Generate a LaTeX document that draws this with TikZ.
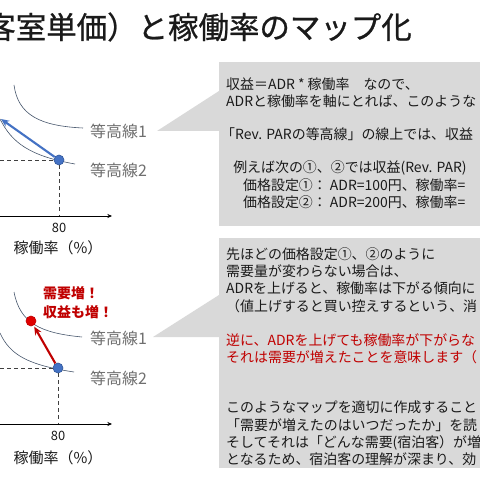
\documentclass[tikz,border=0pt]{standalone}
\usepackage{fontspec}
\setmainfont{Noto Sans CJK JP}
\newfontfamily\maptitlefont[FakeBold=0.8]{Noto Sans CJK JP}
\usetikzlibrary{arrows.meta, positioning, calc}
\definecolor{mapgray}{HTML}{D9D9D9}
\definecolor{mapblue}{HTML}{4472C4}
\definecolor{mapnavy}{HTML}{2F5597}
\definecolor{mapred}{HTML}{C00000}
\definecolor{mapdot}{HTML}{E00000}
\definecolor{mapline}{HTML}{44546A}
\definecolor{maplabel}{HTML}{6F6F6F}
\definecolor{mapink}{HTML}{1A1A1A}
\tikzset{
  titletext/.style={inner sep=0, mapink, font=\maptitlefont\fontsize{26}{26}\selectfont},
  bodytext/.style={anchor=west, inner sep=0, align=left, mapink,
                   font=\fontsize{11.9}{14.9}\selectfont},
  contour/.style={mapline, line width=0.5pt},
  guide/.style={dashed, line width=0.6pt, black!75},
  axisline/.style={line width=0.7pt, -{Stealth[length=4pt, width=3.5pt]}},
  contourlabel/.style={anchor=west, inner sep=0, maplabel,
                       font=\fontsize{13.6}{13.6}\selectfont},
  ticklabel/.style={inner sep=0, mapink, font=\fontsize{11}{11}\selectfont},
  axislabel/.style={inner sep=0, mapink, font=\fontsize{12.8}{12.8}\selectfont},
  bluedot/.style={circle, fill=mapblue, draw=mapnavy, line width=0.5pt,
                  inner sep=0, minimum size=0.3cm},
  reddot/.style={circle, fill=mapdot, draw=mapred, line width=0.5pt,
                 inner sep=0, minimum size=0.3cm}
}

\begin{document}
\begin{tikzpicture}[x=0.03cm, y=-0.03cm]
  \useasboundingbox (0,0) rectangle (480,480);
  \clip (0,0) rectangle (480,480);
  \fill[white] (0,0) rectangle (480,480);
  %% Title ────────────────────────────────────────────────────────
  \node[titletext, anchor=east] (title) at (412,27)
    {客室単価）と稼働率のマップ化};

  %% Callout boxes ────────────────────────────────────────────────
  \fill[mapgray] (219,62) rectangle (490,226);
  \fill[mapgray] (157,131) -- (219,91) -- (219,131) -- cycle;
  \fill[mapgray] (219,238) rectangle (490,468);
  \fill[mapgray] (153,337) -- (219,295) -- (219,337) -- cycle;

  %% (A) Upper map: one contour ─────────────────────────────────
  \draw[contour] (14,85) .. controls (18,115) and (40,126) .. (83,128);
  \draw[contour] (0,119) .. controls (12,143) and (30,156) .. (75,164);
  \coordinate (leftA) at (0,160);
  \coordinate (footA) at (59,216);
  \coordinate (originA) at (0,216);
  \coordinate (endA) at (112,216);
  \coordinate (tipA) at (1,119);
  \node[bluedot] (dotA) at (59,160) {};
  \draw[guide] (leftA) -- (dotA);
  \draw[guide] (dotA) -- (footA);
  \draw[axisline] (originA) -- (endA);
  \draw[mapblue, line width=1.8pt, -{Stealth[length=7pt, width=6pt]}]
    (dotA) -- (tipA);
  \node[ticklabel] (tickA) at (59,228) {80};
  \node[axislabel] (xlabelA) at (58,248) {稼働率（\%）};
  \node[contourlabel] (levelA1) at (90,131) {等高線1};
  \node[contourlabel] (levelA2) at (90,170) {等高線2};

  %% (B) Lower map: demand up ──────────────────────────────────
  \draw[contour] (14,292) .. controls (20,323) and (40,333) .. (82,337);
  \draw[contour] (0,333) .. controls (10,355) and (28,365) .. (74,372);
  \coordinate (leftB) at (0,368);
  \coordinate (footB) at (58,424);
  \coordinate (originB) at (0,424);
  \coordinate (endB) at (112,424);
  \node[reddot] (peakB) at (31,321) {};
  \node[bluedot] (dotB) at (58,368) {};
  \draw[guide] (leftB) -- (dotB);
  \draw[guide] (dotB) -- (footB);
  \draw[axisline] (originB) -- (endB);
  \draw[mapred, line width=1.8pt, -{Stealth[length=7pt, width=6pt]},
        shorten >=1pt] (dotB) -- (peakB);
  \node[bodytext, mapred, font=\fontsize{11.9}{16.2}\selectfont\bfseries]
    (demandB) at (43,302.5) {需要増！\\収益も増！};
  \node[ticklabel] (tickB) at (58,436) {80};
  \node[axislabel] (xlabelB) at (58,458) {稼働率（\%）};
  \node[contourlabel] (levelB1) at (90,338) {等高線1};
  \node[contourlabel] (levelB2) at (90,378) {等高線2};

  %% Upper callout text ───────────────────────────────────────────
  \node[bodytext] (noteA) at (226,92.5)
    {収益＝ADR * 稼働率　なので、\\ADRと稼働率を軸にとれば、このような};
  \node[bodytext] (noteB) at (221,134)
    {「Rev. PARの等高線」の線上では、収益};
  \node[bodytext] (noteC) at (226,185)
    {\hspace*{6pt}例えば次の①、②では収益(Rev. PAR)\\
     \hspace*{14.5pt}価格設定①： ADR=100円、稼働率=\\
     \hspace*{14.5pt}価格設定②： ADR=200円、稼働率=};

  %% Lower callout text ───────────────────────────────────────────
  \node[bodytext] (noteD) at (226,280)
    {先ほどの価格設定①、②のように\\需要量が変わらない場合は、\\
     ADRを上げると、稼働率は下がる傾向に\\
     （値上げすると買い控えするという、消};
  \node[bodytext, mapred] (noteE) at (226,348.5)
    {逆に、ADRを上げても稼働率が下がらな\\
     それは需要が増えたことを意味します（};
  \node[bodytext] (noteF) at (226,433.5)
    {このようなマップを適切に作成すること\\
     「需要が増えたのはいつだったか」を読\\
     そしてそれは「どんな需要(宿泊客）が増\\
     となるため、宿泊客の理解が深まり、効};
\end{tikzpicture}
\end{document}
